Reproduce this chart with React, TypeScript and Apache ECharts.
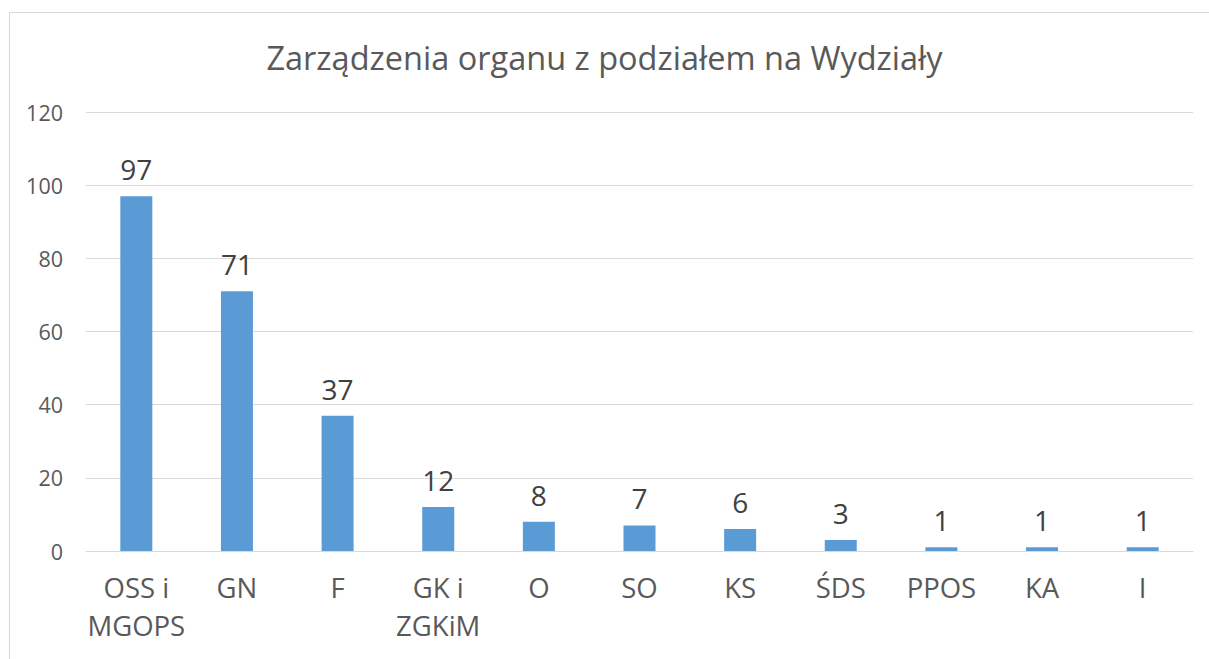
import React, { useEffect, useRef } from "react";
import * as echarts from "echarts";

const categories = ["OSS i\nMGOPS", "GN", "F", "GK i\nZGKiM", "O", "SO", "KS", "ŚDS", "PPOS", "KA", "I"];
const values = [97, 71, 37, 12, 8, 7, 6, 3, 1, 1, 1];
const titleText = "Zarządzenia organu z podziałem na Wydziały";

const FONT = "'Open Sans', 'Noto Sans', sans-serif";

export default function App() {
  const ref = useRef<HTMLDivElement>(null);
  useEffect(() => {
    if (!ref.current) return;
    const chart = echarts.init(ref.current, null, { renderer: "svg" });
    chart.setOption({
      animation: false,
      backgroundColor: "#ffffff",
      title: {
        text: titleText,
        left: "center",
        top: 36,
        textStyle: { fontFamily: FONT, fontSize: 32.5, fontWeight: "normal", color: "#595959" },
      },
      graphic: [
        {
          type: "rect",
          shape: { x: 9.5, y: 12.5, width: 1300, height: 700 },
          style: { fill: "none", stroke: "#d9d9d9", lineWidth: 1 },
          silent: true,
        },
      ],
      grid: { left: 86, right: 16, top: 112, bottom: 108 },
      xAxis: {
        type: "category",
        data: categories,
        axisLine: { lineStyle: { color: "#d9d9d9", width: 1 } },
        axisTick: { show: false },
        axisLabel: {
          fontFamily: FONT,
          fontSize: 27.5,
          color: "#595959",
          lineHeight: 38,
          margin: 17,
          interval: 0,
        },
      },
      yAxis: {
        type: "value",
        min: 0,
        max: 120,
        interval: 20,
        axisLine: { show: false },
        axisTick: { show: false },
        splitLine: { lineStyle: { color: "#d9d9d9", width: 1 } },
        axisLabel: { fontFamily: FONT, fontSize: 21.5, color: "#595959", margin: 23 },
      },
      series: [
        {
          type: "bar",
          data: values,
          barWidth: 32,
          itemStyle: { color: "#5b9bd5" },
          label: {
            show: true,
            position: "top",
            distance: 13,
            fontFamily: FONT,
            fontSize: 28,
            color: "#404040",
          },
        },
      ],
    });
    return () => chart.dispose();
  }, []);
  return (
    <div
      ref={ref}
      style={{ position: "fixed", left: 0, top: 0, width: 1209, height: 659 }}
    />
  );
}
